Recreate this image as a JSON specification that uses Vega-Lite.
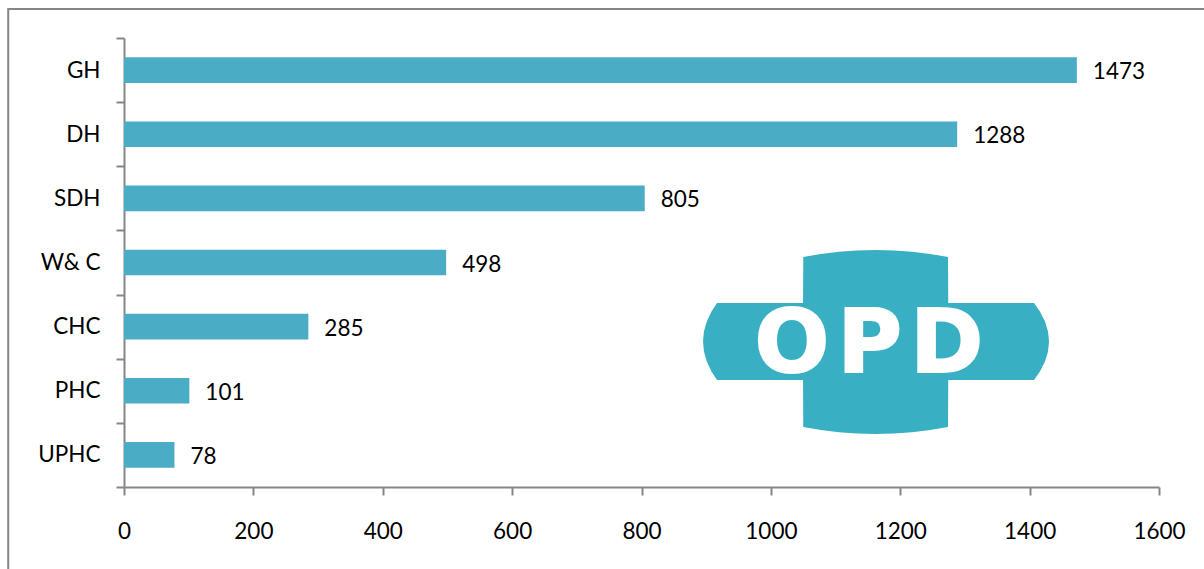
{
"$schema":"https://vega.github.io/schema/vega-lite/v6.json",
"width":1035,"height":449,
"autosize":{"type":"none"},
"padding":{"left":124,"top":38,"right":45,"bottom":82},
"background":"white",
"config":{"view":{"stroke":null},"font":"Lato"},
"datasets":{
"bars":[{"facility":"GH","cases":1473},{"facility":"DH","cases":1288},{"facility":"SDH","cases":805},{"facility":"W& C","cases":498},{"facility":"CHC","cases":285},{"facility":"PHC","cases":101},{"facility":"UPHC","cases":78}],
"frame":[{"left":-179,"right":1900,"top":9,"bottom":700}],
"cross":[
{"x":895.1,"top":341.5,"bottom":341.5},{"x":896.5,"top":331.5,"bottom":351.5},{"x":901,"top":321.5,"bottom":361.5},{"x":908.2,"top":311.5,"bottom":371.5},{"x":916.7,"top":303,"bottom":380},
{"x":1049.7,"top":303,"bottom":380},{"x":1050.1,"top":257,"bottom":427},{"x":1077.5,"top":253.9,"bottom":430.1},{"x":1105.3,"top":251.8,"bottom":432.2},{"x":1133.2,"top":250.4,"bottom":433.6},{"x":1161.8,"top":250,"bottom":434},{"x":1190.4,"top":250.4,"bottom":433.6},{"x":1218.2,"top":251.8,"bottom":432.2},{"x":1246,"top":253.9,"bottom":430.1},{"x":1273.8,"top":257,"bottom":427},{"x":1274.2,"top":303,"bottom":380},
{"x":1406.8,"top":303,"bottom":380},{"x":1415.9,"top":311.5,"bottom":371.5},{"x":1423.8,"top":321.5,"bottom":361.5},{"x":1428.4,"top":331.5,"bottom":351.5},{"x":1430,"top":341.5,"bottom":341.5}],
"logoText":[{"label":"O","x":1032.7,"y":346},{"label":"P","x":1153,"y":346},{"label":"D","x":1272,"y":346}]
},
"layer":[
{"layer":[
{"data":{"name":"frame"},"mark":{"type":"rect","fillOpacity":0,"stroke":"#868686","strokeWidth":2},
"encoding":{"x":{"field":"left","type":"quantitative","scale":{"domain":[0,1600],"nice":false},"axis":null},"x2":{"field":"right"},"y":{"field":"top","type":"quantitative","scale":{"domain":[487,38],"nice":false,"zero":false},"axis":null},"y2":{"field":"bottom"}}},
{"data":{"name":"cross"},"mark":{"type":"area","orient":"vertical","color":"#38afc3"},
"encoding":{"x":{"field":"x","type":"quantitative","axis":null},"y":{"field":"top","type":"quantitative","axis":null},"y2":{"field":"bottom"}}},
{"data":{"name":"logoText"},"mark":{"type":"text","font":"DejaVu Sans","fontWeight":"bold","fontSize":88,"color":"white","stroke":"white","strokeWidth":2,"baseline":"middle","align":"center"},
"encoding":{"x":{"field":"x","type":"quantitative","axis":null},"y":{"field":"y","type":"quantitative","axis":null},"text":{"field":"label"}}}
]},
{"data":{"name":"bars"},"layer":[
{"mark":{"type":"bar","color":"#4bacc6","height":{"band":0.4}},
"encoding":{
"y":{"field":"facility","type":"nominal","sort":null,"title":null,"scale":{"paddingInner":0,"paddingOuter":0},
"axis":{"tickBand":"extent","tickExtra":true,"orient":"left","domainColor":"#868686","domainWidth":2,"tickColor":"#868686","tickWidth":2,"tickSize":8,"labelPadding":16,"labelFontSize":22.5,"labelColor":"black","labelFont":"Lato","grid":false}},
"x":{"field":"cases","type":"quantitative","title":null,"scale":{"domain":[0,1600],"nice":false},
"axis":{"values":[0,200,400,600,800,1000,1200,1400,1600],"format":"d","orient":"bottom","domainColor":"#868686","domainWidth":2,"tickColor":"#868686","tickWidth":2,"tickSize":8,"labelPadding":25,"labelFontSize":22.5,"labelColor":"black","labelFont":"Lato","grid":false,"labelFlush":false}}}},
{"mark":{"type":"text","align":"left","baseline":"middle","dx":16,"dy":2,"fontSize":22.5,"font":"Lato","color":"black"},
"encoding":{"y":{"field":"facility","type":"nominal","sort":null},"x":{"field":"cases","type":"quantitative"},"text":{"field":"cases","type":"quantitative","format":"d"}}}
]}
],
"resolve":{"scale":{"y":"independent"},"axis":{"x":"independent"}}
}
